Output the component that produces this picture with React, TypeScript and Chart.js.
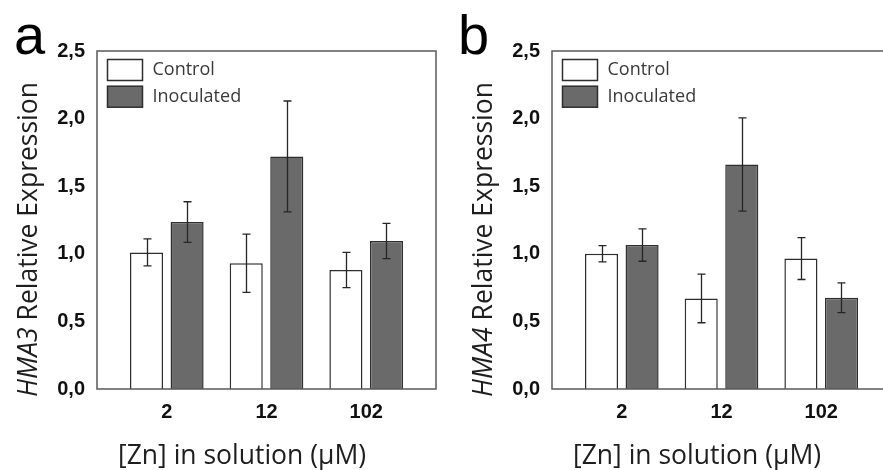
import React, { useEffect, useRef } from "react";
import { Chart, registerables } from "chart.js";

Chart.register(...registerables);

// ---- data ----
const categories = ["2", "12", "102"];
const seriesNames = ["Control", "Inoculated"];

const hma3Control = [1.01, 0.93, 0.88];
const hma3ControlErr = [0.1, 0.215, 0.13];
const hma3Inoculated = [1.235, 1.72, 1.095];
const hma3InoculatedErr = [0.15, 0.41, 0.13];

const hma4Control = [1.0, 0.67, 0.965];
const hma4ControlErr = [0.06, 0.18, 0.155];
const hma4Inoculated = [1.065, 1.66, 0.675];
const hma4InoculatedErr = [0.12, 0.345, 0.11];

const yTickValues = [0, 0.5, 1.0, 1.5, 2.0, 2.5];

const xTitle = "[Zn] in solution (µM)";
const yTitleRest = " Relative Expression";

// ---- styles ----
const CONTROL_FILL = "#ffffff";
const INOC_FILL = "#6a6a6a";
const BAR_BORDER = "#2e2e2e";
const TITLE_FONT = "'Open Sans', sans-serif";
const TICK_FONT = "'Liberation Sans', Arial, sans-serif";
const TITLE_SIZE = 26.5;

const decorPlugin = {
  id: "decor",
  afterDatasetsDraw(chart: any, _args: any, opts: any) {
    const { ctx, chartArea: ca, scales } = chart;
    const y = scales.y;
    ctx.save();

    // error bars
    chart.data.datasets.forEach((ds: any, di: number) => {
      const meta = chart.getDatasetMeta(di);
      const errs = opts.errors[di];
      meta.data.forEach((bar: any, i: number) => {
        const v = ds.data[i].y;
        const e = errs[i];
        const cx = Math.round(bar.x) + 0.5;
        const yt = y.getPixelForValue(v + e);
        const yb = y.getPixelForValue(v - e);
        ctx.strokeStyle = "#262626";
        ctx.lineWidth = 1.3;
        ctx.beginPath();
        ctx.moveTo(cx, yt);
        ctx.lineTo(cx, yb);
        ctx.moveTo(cx - 4, yt);
        ctx.lineTo(cx + 4, yt);
        ctx.moveTo(cx - 4, yb);
        ctx.lineTo(cx + 4, yb);
        ctx.stroke();
      });
    });

    // frame
    ctx.strokeStyle = "#5a5a5a";
    ctx.lineWidth = 1.5;
    ctx.strokeRect(ca.left, ca.top, ca.right - ca.left, ca.bottom - ca.top);

    // legend inside plot
    const lx = ca.left + 10.5;
    let ly = ca.top + 8.5;
    chart.data.datasets.forEach((ds: any) => {
      ctx.fillStyle = ds.backgroundColor;
      ctx.fillRect(lx, ly, 35, 21);
      ctx.strokeStyle = BAR_BORDER;
      ctx.lineWidth = 1.5;
      ctx.strokeRect(lx, ly, 35, 21);
      ctx.fillStyle = "#3a3a3a";
      ctx.font = `18px ${TITLE_FONT}`;
      ctx.textAlign = "left";
      ctx.textBaseline = "middle";
      ctx.fillText(ds.label, ca.left + 55.5, ly + 10.5);
      ly += 26.7;
    });

    // x title
    ctx.fillStyle = "#1e1e1e";
    ctx.font = `${TITLE_SIZE}px ${TITLE_FONT}`;
    ctx.textAlign = "left";
    ctx.textBaseline = "alphabetic";
    ctx.fillText(xTitle, ca.left + 21, 464);

    // y title (gene name italic)
    ctx.translate(ca.left - 60.5, ca.bottom + 8);
    ctx.rotate(-Math.PI / 2);
    ctx.font = `italic ${TITLE_SIZE}px ${TITLE_FONT}`;
    ctx.fillText(opts.gene, 0, 0);
    const w = ctx.measureText(opts.gene).width;
    ctx.font = `${TITLE_SIZE}px ${TITLE_FONT}`;
    ctx.fillText(yTitleRest, w, 0);
    ctx.setTransform(1, 0, 0, 1, 0, 0);

    // panel letter
    ctx.fillStyle = "#000000";
    ctx.font = `56px ${TICK_FONT}`;
    ctx.textAlign = "left";
    ctx.textBaseline = "alphabetic";
    ctx.fillText(opts.letter, opts.letterX, 54);

    ctx.restore();
  },
};

function Panel(props: {
  left: number;
  letter: string;
  letterX: number;
  gene: string;
  control: number[];
  controlErr: number[];
  inoc: number[];
  inocErr: number[];
}) {
  const ref = useRef<HTMLCanvasElement | null>(null);
  useEffect(() => {
    if (!ref.current) return;
    const toPts = (arr: number[]) => arr.map((v, i) => ({ x: i, y: v }));
    const chart = new Chart(ref.current, {
      type: "bar",
      data: {
        datasets: [
          {
            label: seriesNames[0],
            data: toPts(props.control),
            backgroundColor: CONTROL_FILL,
            borderColor: BAR_BORDER,
            borderWidth: 1.5,
            categoryPercentage: 0.814,
            barPercentage: 0.815,
          },
          {
            label: seriesNames[1],
            data: toPts(props.inoc),
            backgroundColor: INOC_FILL,
            borderColor: BAR_BORDER,
            borderWidth: 1.5,
            categoryPercentage: 0.814,
            barPercentage: 0.815,
          },
        ] as any,
      },
      options: {
        animation: false,
        responsive: false,
        events: [],
        layout: { padding: { left: 0, right: 4, top: 51, bottom: 0 } },
        plugins: {
          legend: { display: false },
          tooltip: { enabled: false },
          decor: {
            errors: [props.controlErr, props.inocErr],
            gene: props.gene,
            letter: props.letter,
            letterX: props.letterX,
          },
        } as any,
        scales: {
          x: {
            type: "linear",
            min: -0.7,
            max: 2.7,
            offset: false,
            grid: { display: false, drawTicks: false, offset: false },
            border: { display: false },
            afterBuildTicks: (scale: any) => {
              scale.ticks = categories.map((_, i) => ({ value: i }));
            },
            afterFit: (scale: any) => {
              scale.height = 81;
            },
            ticks: {
              padding: 11,
              color: "#111111",
              font: { family: TICK_FONT, size: 20, weight: "bold" },
              callback: (v: any) => categories[v] ?? "",
            },
          },
          y: {
            min: 0,
            max: 2.5,
            grid: { display: false, drawTicks: false },
            border: { display: false },
            afterBuildTicks: (scale: any) => {
              scale.ticks = yTickValues.map((v) => ({ value: v }));
            },
            afterFit: (scale: any) => {
              scale.width = 97;
            },
            ticks: {
              padding: 12,
              color: "#111111",
              font: { family: TICK_FONT, size: 20, weight: "bold" },
              callback: (v: any) => Number(v).toFixed(1).replace(".", ","),
            },
          },
        } as any,
      },
      plugins: [decorPlugin],
    });
    return () => chart.destroy();
  }, []);
  return (
    <canvas
      ref={ref}
      width={440}
      height={470}
      style={{ position: "absolute", left: props.left, top: 0, width: 440, height: 470, display: "block" }}
    />
  );
}

export default function App() {
  return (
    <div
      style={{
        position: "absolute",
        left: 0,
        top: 0,
        width: 883,
        height: 470,
        overflow: "hidden",
        background: "#ffffff",
      }}
    >
      <Panel
        left={0}
        letter="a"
        letterX={14}
        gene="HMA3"
        control={hma3Control}
        controlErr={hma3ControlErr}
        inoc={hma3Inoculated}
        inocErr={hma3InoculatedErr}
      />
      <Panel
        left={455}
        letter="b"
        letterX={3}
        gene="HMA4"
        control={hma4Control}
        controlErr={hma4ControlErr}
        inoc={hma4Inoculated}
        inocErr={hma4InoculatedErr}
      />
    </div>
  );
}
